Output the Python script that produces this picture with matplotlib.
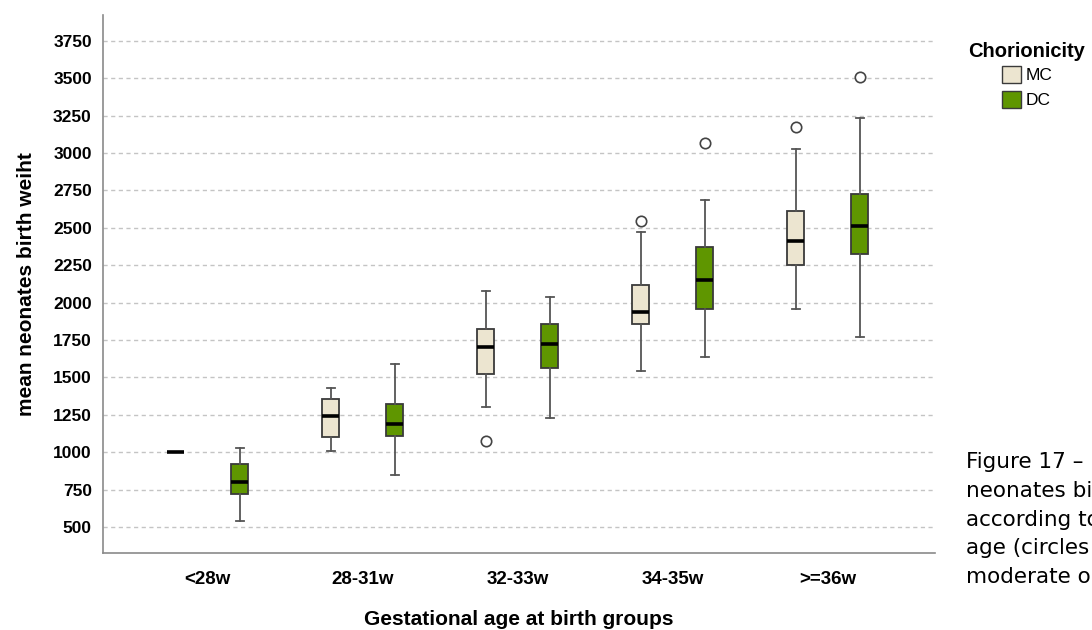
import matplotlib.pyplot as plt
from matplotlib.patches import Patch

plt.rcParams['font.family'] = ['Liberation Sans', 'DejaVu Sans']

groups = ["<28w", "28-31w", "32-33w", "34-35w", ">=36w"]

# box statistics per gestational age group: whislo, q1, median, q3, whishi
mc_whislo = [1000, 1010, 1302, 1543, 1955]
mc_q1 = [1000, 1100, 1525, 1857, 2249]
mc_med = [1000, 1242, 1705, 1937, 2410]
mc_q3 = [1000, 1353, 1821, 2118, 2614]
mc_whishi = [1000, 1427, 2075, 2470, 3025]
mc_fliers = [[], [], [1077], [2547], [3172]]

dc_whislo = [542, 846, 1231, 1636, 1772]
dc_q1 = [721, 1108, 1561, 1959, 2325]
dc_med = [801, 1186, 1723, 2149, 2514]
dc_q3 = [923, 1324, 1855, 2372, 2724]
dc_whishi = [1030, 1590, 2039, 2688, 3234]
dc_fliers = [[], [], [], [3067], [3505]]

mc_color = "#ece5d0"
dc_color = "#5f9600"
edge = "#3a3a3a"


def make_stats(lo, q1, med, q3, hi, fl):
    return [dict(whislo=a, q1=b, med=c, q3=d, whishi=e, fliers=f)
            for a, b, c, d, e, f in zip(lo, q1, med, q3, hi, fl)]


fig = plt.figure(figsize=(10.92, 6.3), dpi=100)
ax = fig.add_axes([0.0943, 0.1222, 0.7617, 0.854])

pos = range(len(groups))
series = [
    (make_stats(mc_whislo, mc_q1, mc_med, mc_q3, mc_whishi, mc_fliers), -0.206, mc_color),
    (make_stats(dc_whislo, dc_q1, dc_med, dc_q3, dc_whishi, dc_fliers), 0.206, dc_color),
]
for stats, off, col in series:
    ax.bxp(stats, positions=[p + off for p in pos], widths=0.11,
           patch_artist=True, showfliers=True,
           boxprops=dict(facecolor=col, edgecolor=edge, linewidth=1.3),
           medianprops=dict(color="black", linewidth=2.6),
           whiskerprops=dict(color="#555555", linewidth=1.3),
           capprops=dict(color="#555555", linewidth=1.3),
           capwidths=0.05,
           flierprops=dict(marker="o", markerfacecolor="white",
                           markeredgecolor="#444444", markersize=7.5,
                           markeredgewidth=1.2),
           zorder=3)

# the single <28w MC case is just a flat line
ax.set_xlim(-0.677, 4.69)
ax.set_ylim(326, 3922)
ax.set_xticks(list(pos))
ax.set_xticklabels(groups, fontsize=13.5, fontweight="bold")
ax.set_yticks(range(500, 3751, 250))
ax.set_yticklabels([str(v) for v in range(500, 3751, 250)],
                   fontsize=12.5, fontweight="bold")
ax.tick_params(length=0, pad=8)
ax.tick_params(axis="x", pad=13)
ax.yaxis.grid(True, linestyle=(0, (3, 2.5)), color="#c4c4c4", linewidth=1)
ax.set_axisbelow(True)
for s in ["top", "right"]:
    ax.spines[s].set_visible(False)
for s in ["left", "bottom"]:
    ax.spines[s].set_color("#8a8a8a")
    ax.spines[s].set_linewidth(1.2)

ax.set_ylabel("mean neonates birth weiht", fontsize=15, fontweight="bold",
              labelpad=12)
ax.set_xlabel("Gestational age at birth groups", fontsize=15,
              fontweight="bold", labelpad=16)

handles = [Patch(facecolor=mc_color, edgecolor=edge, label="MC"),
           Patch(facecolor=dc_color, edgecolor=edge, label="DC")]
leg = fig.legend(handles=handles, title="Chorionicity", loc="upper center",
                 bbox_to_anchor=(1027 / 1092, 1 - 26 / 630), frameon=False,
                 fontsize=12.5, handlelength=1.1, handleheight=1.1,
                 handletextpad=0.25, labelspacing=0.45)
leg.get_title().set_fontweight("bold")
leg.get_title().set_fontsize(14.5)
leg._legend_box.sep = 4

caption = ["Figure 17 \u2013 Mean", "neonates birth weight",
           "according to gestational", "age (circles represent",
           "moderate outliers)"]
for i, line in enumerate(caption):
    fig.text(966 / 1092, 1 - (462 + 28.8 * i) / 630, line, fontsize=15.5,
             family="DejaVu Sans", color="black", va="center", ha="left")

fig.savefig("out.png", dpi=100)
